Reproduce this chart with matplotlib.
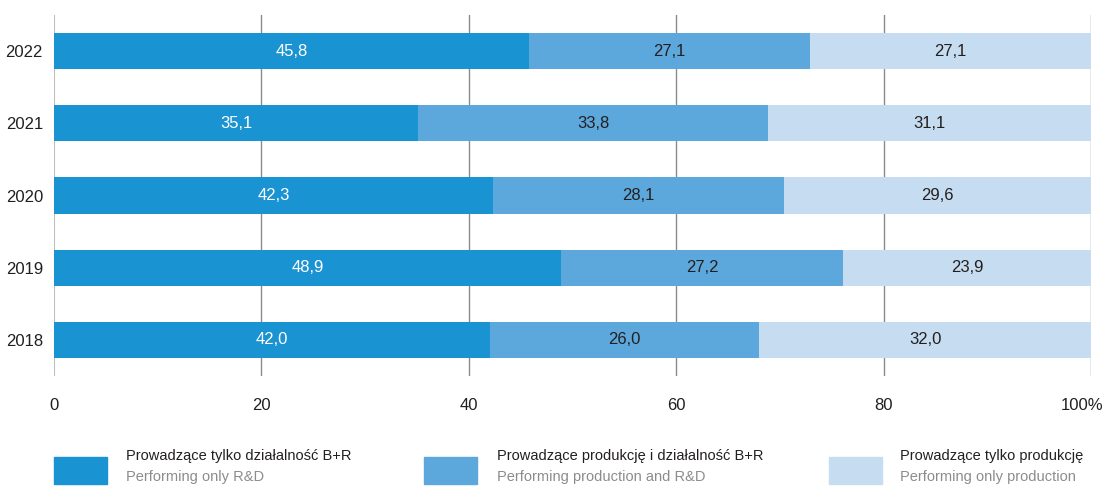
import numpy as np
import matplotlib
matplotlib.use("Agg")
import matplotlib.pyplot as plt
import matplotlib.transforms as mtransforms
from matplotlib.patches import Rectangle

plt.rcParams['font.family'] = ['Liberation Sans', 'DejaVu Sans']

years = ["2018", "2019", "2020", "2021", "2022"]
only_rd = [42.0, 48.9, 42.3, 35.1, 45.8]
prod_rd = [26.0, 27.2, 28.1, 33.8, 27.1]
only_prod = [32.0, 23.9, 29.6, 31.1, 27.1]

labels_pl = ["Prowadzące tylko działalność B+R",
             "Prowadzące produkcję i działalność B+R",
             "Prowadzące tylko produkcję"]
labels_en = ["Performing only R&D",
             "Performing production and R&D",
             "Performing only production"]
colors = ["#1a93d3", "#5ca8dc", "#c6dcf0"]
txt_colors = ["white", "#231f20", "#231f20"]

fs = 10.5

fig = plt.figure(figsize=(11.04, 4.87), dpi=100)
ax = fig.add_axes([54/1104, 1 - 376/487, (1091 - 54)/1104, (376 - 15)/487])

y = np.arange(len(years))
left = np.zeros(len(years))
for vals, c, tc in zip([only_rd, prod_rd, only_prod], colors, txt_colors):
    vals = np.array(vals)
    ax.barh(y, vals, left=left, height=0.5, color=c, zorder=2)
    for yi, l, v in zip(y, left, vals):
        ax.text(l + v / 2, yi, f"{v:.1f}".replace(".", ","), ha="center", va="center",
                color=tc, fontsize=12, zorder=3)
    left += vals

ax.set_xlim(0, 100)
ax.set_ylim(-0.5, 4.5)
ax.set_yticks(y)
ax.set_yticklabels(years)
ax.set_xticks([0, 20, 40, 60, 80, 100])
ax.set_xticklabels(["0", "20", "40", "60", "80", "100%"])
ax.tick_params(length=0, labelsize=12, colors="#231f20")
ax.tick_params(axis="x", pad=16)
ax.tick_params(axis="y", pad=8)
last = ax.get_xticklabels()[-1]
last.set_horizontalalignment("right")
last.set_transform(last.get_transform() + mtransforms.ScaledTranslation(0.12, 0, fig.dpi_scale_trans))
for x in [20, 40, 60, 80, 100]:
    ax.axvline(x, color="#8a8a8a", lw=1, zorder=1)
ax.axvline(0, color="#bdbdbd", lw=1.5, zorder=1)
for s in ax.spines.values():
    s.set_visible(False)

# legend
sq_x = [54, 424, 829]
tx_x = [126, 497, 900]
for sx, tx, c, pl, en in zip(sq_x, tx_x, colors, labels_pl, labels_en):
    fig.add_artist(Rectangle((sx/1104, 1 - 484/487), 53/1104, 27/487,
                             transform=fig.transFigure, color=c))
    fig.text(tx/1104, 1 - 456/487, pl, fontsize=fs, color="#231f20", va="center")
    fig.text(tx/1104, 1 - 477/487, en, fontsize=fs, color="#8c8c8c", va="center")

fig.savefig("out.png", dpi=100)
